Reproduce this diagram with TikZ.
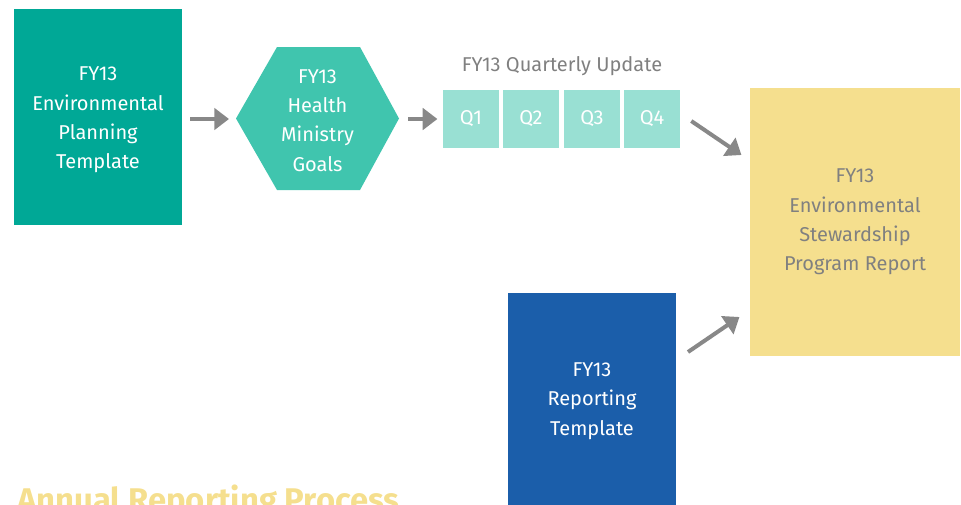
\documentclass[tikz,border=0pt]{standalone}
\usepackage{fontspec}
\setmainfont{Fira Sans}
\usetikzlibrary{arrows.meta,calc}
\definecolor{tealA}{RGB}{0,168,150}
\definecolor{tealB}{RGB}{64,197,174}
\definecolor{tealC}{RGB}{153,224,211}
\definecolor{yel}{RGB}{245,223,142}
\definecolor{blu}{RGB}{27,94,170}
\definecolor{gry}{RGB}{128,128,128}
\definecolor{arr}{RGB}{136,136,136}
\tikzset{
  box/.style={inner sep=0pt, align=center, font=\fontsize{15}{22}\selectfont},
  qbox/.style={fill=tealC, text=white, minimum width=42pt, minimum height=43.5pt, inner sep=0pt, font=\fontsize{15}{18}\selectfont},
  garrow/.style={draw=arr, line width=3pt, -{Triangle[length=11pt,width=16pt]}},
}
\begin{document}
\begin{tikzpicture}[x=0.75pt,y=-0.75pt]
\useasboundingbox (0,0) rectangle (961,504);
% box 1
\fill[tealA] (14,9) rectangle (182,225);
\node[box, text=white] (plan) at (98,120) {FY13\\Environmental\\Planning\\Template};
% hexagon
\fill[tealB] (236,118.5) -- (277,47) -- (360,47) -- (399,118.5) -- (360,190) -- (277,190) -- cycle;
\node[box, text=white, minimum width=122pt, minimum height=107pt] (hex) at (317.5,120.5) {FY13\\Health\\Ministry\\Goals};
% quarterly
\node[qbox] (q1) at (471,119) {Q1};
\node[qbox] (q2) at (531,119) {Q2};
\node[qbox] (q3) at (592,119) {Q3};
\node[qbox] (q4) at (652,119) {Q4};
\node[text=gry, inner sep=0pt, font=\fontsize{15}{18}\selectfont] (qt) at (562,66) {FY13 Quarterly Update};
% yellow report
\node[box, fill=yel, text=gry, minimum width=158pt, minimum height=201pt] (rep) at (855,222) {FY13\\Environmental\\Stewardship\\Program Report};
% blue
\fill[blu] (508,293) rectangle (676,510);
\node[box, text=white, minimum width=126pt, minimum height=100pt] (rt) at (592,401) {FY13\\Reporting\\Template};
% title
\node[anchor=north west, inner sep=0pt, text=yel, font=\fontsize{24.6}{28}\bfseries\selectfont] (ttl) at (17,485) {Annual Reporting Process};
% arrows
\coordinate (a1s) at (190,119);
\coordinate (a1e) at (229,119);
\draw[garrow] (a1s) -- (a1e);
\coordinate (a2s) at (408,119);
\draw[garrow, shorten >=4pt] (a2s) -- (q1.west);
\coordinate (a3s) at ($(q4.east)+(11,2)$);
\coordinate (a3e) at ($(rep.west)+(-8,-67)$);
\draw[garrow] (a3s) -- (a3e);
\coordinate (a4s) at (688,352);
\coordinate (a4e) at ($(rep.west)+(-10,95)$);
\draw[garrow] (a4s) -- (a4e);
\end{tikzpicture}
\end{document}
